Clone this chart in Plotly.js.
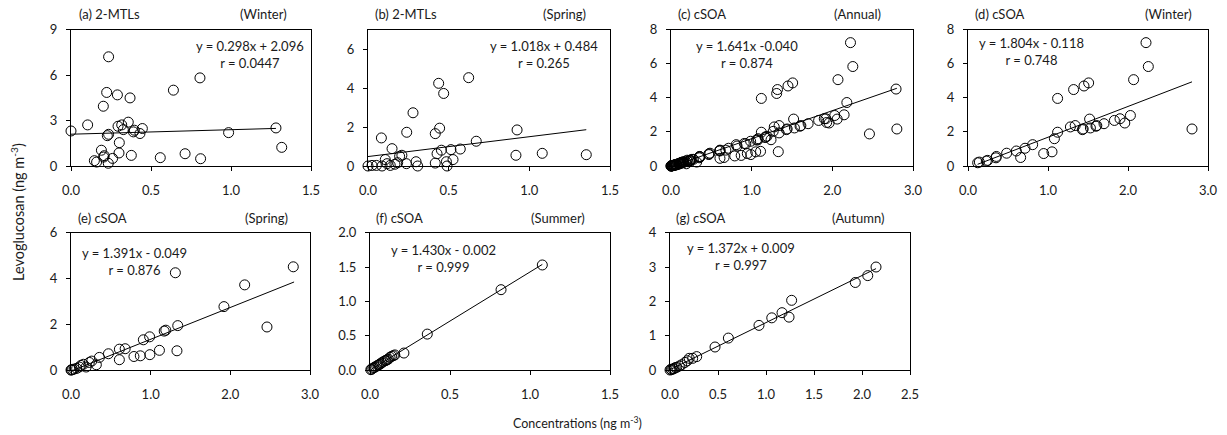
<!DOCTYPE html>
<html><head><meta charset="utf-8">
<script src="https://cdn.plot.ly/plotly-3.0.1.min.js"></script>
<style>html,body{margin:0;padding:0;background:#fff}#chart{width:1227px;height:435px}</style>
</head><body><div id="chart"></div>
<script>
// (a) 2-MTLs Winter
const aX = [0.0,0.104,0.235,0.223,0.29,0.369,0.202,0.317,0.358,0.294,0.327,0.227,0.235,0.396,0.39,0.446,0.431,0.302,0.19,0.208,0.204,0.3,0.377,0.146,0.16,0.233,0.26,0.558,0.713,0.81,0.64,0.806,0.985,1.281,1.317];
const aY = [2.31,2.71,7.2,4.85,4.69,4.49,3.94,2.71,2.89,2.62,2.4,2.0,2.09,2.36,2.25,2.47,2.14,1.54,1.04,0.68,0.59,0.86,0.70,0.35,0.26,0.18,0.5,0.55,0.81,0.48,5.0,5.81,2.2,2.51,1.23];
// (b) 2-MTLs Spring
const bX = [0.438,0.469,0.624,0.279,0.24,0.417,0.444,0.083,0.149,0.196,0.21,0.428,0.455,0.514,0.572,0.671,0.527,0.486,0.49,0.417,0.298,0.308,0.238,0.184,0.167,0.118,0.107,0.138,0.087,0.052,0.025,0.0,0.924,0.917,1.08,1.353];
const bY = [4.24,3.72,4.53,2.73,1.73,1.66,1.94,1.44,0.89,0.5,0.55,0.63,0.81,0.84,0.87,1.27,0.33,0.22,0.0,0.15,0.22,0.0,0.12,0.17,0.09,0.12,0.33,0.03,0.0,0.03,0.03,0.0,1.85,0.55,0.65,0.58];
// (d) cSOA Winter
const dX = [2.225,2.254,2.07,1.508,1.45,1.32,1.12,2.8,2.03,1.96,1.9,1.83,1.7,1.61,1.6,1.52,1.53,1.44,1.43,1.34,1.28,1.12,1.08,1.05,0.946,0.808,0.713,0.604,0.658,0.483,0.354,0.35,0.246,0.229,0.142,0.121];
const dY = [7.23,5.83,5.06,4.87,4.69,4.48,3.96,2.17,2.96,2.52,2.77,2.67,2.48,2.37,2.33,2.75,2.23,2.17,2.13,2.37,2.29,1.98,1.6,0.83,0.73,1.25,1.04,0.88,0.5,0.75,0.56,0.48,0.33,0.29,0.23,0.19];
// (e) cSOA Spring
const eX = [2.79,2.18,1.92,2.46,1.31,1.34,1.19,1.17,0.987,0.908,1.33,1.11,0.99,0.87,0.79,0.68,0.607,0.607,0.47,0.356,0.318,0.26,0.23,0.19,0.155,0.125,0.105,0.071,0.04,0.005,0.0,0.02];
const eY = [4.51,3.72,2.77,1.88,4.25,1.94,1.74,1.7,1.45,1.32,0.84,0.86,0.67,0.62,0.59,0.93,0.91,0.45,0.71,0.55,0.23,0.39,0.33,0.13,0.25,0.2,0.13,0.07,0.04,0.0,0.0,0.02];
// (f) cSOA Summer
const fX = [1.077,0.819,0.358,0.212,0.146,0.135,0.125,0.115,0.108,0.094,0.083,0.073,0.065,0.058,0.05,0.042,0.033,0.025,0.018,0.01,0.005,0.155,0.1];
const fY = [1.53,1.17,0.523,0.247,0.208,0.2,0.185,0.16,0.15,0.135,0.12,0.105,0.09,0.08,0.07,0.058,0.045,0.035,0.025,0.012,0.005,0.22,0.14];
// (g) cSOA Autumn
const gX = [2.146,2.06,1.93,1.267,1.24,1.167,1.06,0.927,0.608,0.469,0.278,0.236,0.2,0.18,0.156,0.12,0.097,0.07,0.042,0.017,0.0,0.03,0.055,0.01];
const gY = [3.0,2.75,2.55,2.03,1.54,1.67,1.52,1.3,0.93,0.67,0.39,0.34,0.34,0.27,0.22,0.15,0.115,0.077,0.04,0.01,0.0,0.03,0.07,0.02];
// (c) cSOA Annual = all seasons
const cX = dX.concat(eX, fX, gX);
const cY = dY.concat(eY, fY, gY);

const panelLeft  = ["(a) 2-MTLs","(b) 2-MTLs","(c) cSOA","(d) cSOA","(e) cSOA","(f) cSOA","(g) cSOA"];
const panelRight = ["(Winter)","(Spring)","(Annual)","(Winter)","(Spring)","(Summer)","(Autumn)"];
const slopes     = [0.298,1.018,1.641,1.804,1.391,1.430,1.372];
const intercepts = [2.096,0.484,-0.040,-0.118,-0.049,-0.002,0.009];
const eqText     = ["y = 0.298x + 2.096","y = 1.018x + 0.484","y = 1.641x -0.040","y = 1.804x - 0.118","y = 1.391x - 0.049","y = 1.430x - 0.002","y = 1.372x + 0.009"];
const rText      = ["r = 0.0447","r = 0.265","r = 0.874","r = 0.748","r = 0.876","r = 0.999","r = 0.997"];
const fitMin     = [0,0,0,0.12,0,0,0];
const fitMax     = [1.281,1.353,2.8,2.8,2.8,1.077,2.146];
const xMax       = [1.5,1.5,3,3,3,1.5,2.5];
const xStep      = [0.5,0.5,1,1,1,0.5,0.5];
const yMax       = [9,7,8,8,6,2,4];
const yStep      = [3,2,2,2,2,0.5,1];

const xs = [aX,bX,cX,dX,eX,fX,gX];
const ys = [aY,bY,cY,dY,eY,fY,gY];

const W = 1227, H = 435;
// pixel boxes [left,right,top,bottom]
const boxes = [[71,311,29.5,166],[368,610,29.5,166],[671,913,29.5,166],[968,1208,29.5,166],
               [71,310,232.7,370],[370,610,232.7,370],[670,910,232.7,370]];
const titleL = [77,373,676,973,76,374,674];
const titleR = [289,588,883,1194,290,587,886];
const eqX    = [250,544,747,1031,134,443,741];
const eqY    = [54.5,54.5,54,51.5,261,258,256.5];

const FONT = "Lato, 'Open Sans', sans-serif";
const TC = "#1a1a1a";
const traces = [], annotations = [];
const layout = {
  width: W, height: H, margin:{l:0,r:0,t:0,b:0}, showlegend:false,
  paper_bgcolor:"#fff", plot_bgcolor:"#fff",
  font:{family:FONT,size:13,color:TC}, annotations: annotations
};
for (let i=0;i<7;i++){
  const n = i+1, xa = 'x'+(n===1?'':n), ya = 'y'+(n===1?'':n);
  const b = boxes[i];
  const axCommon = {showline:true,mirror:true,linecolor:"#000",linewidth:1,ticks:"outside",ticklen:4,tickwidth:1,tickcolor:"#000",
                    showgrid:false,zeroline:false,fixedrange:true,tickfont:{family:FONT,size:13,color:TC}};
  layout['xaxis'+(n===1?'':n)] = Object.assign({}, axCommon, {
    domain:[b[0]/W,b[1]/W], anchor:ya, range:[0,xMax[i]], dtick:xStep[i], tick0:0, tickformat:".1f", ticklabelstandoff:8});
  layout['yaxis'+(n===1?'':n)] = Object.assign({}, axCommon, {
    domain:[1-b[3]/H,1-b[2]/H], anchor:xa, range:[0,yMax[i]], dtick:yStep[i], tick0:0,
    tickformat: yStep[i]<1 ? ".1f" : "d", ticklabelstandoff:6});
  traces.push({type:'scatter',mode:'markers',x:xs[i],y:ys[i],xaxis:xa,yaxis:ya,cliponaxis:false,
    marker:{symbol:'circle-open',size:10,color:'#000',line:{width:1,color:'#000'}},hoverinfo:'x+y'});
  traces.push({type:'scatter',mode:'lines',x:[fitMin[i],fitMax[i]],
    y:[slopes[i]*fitMin[i]+intercepts[i], slopes[i]*fitMax[i]+intercepts[i]],xaxis:xa,yaxis:ya,
    line:{color:'#000',width:1},hoverinfo:'skip'});
  const ty = b[2]-15;
  annotations.push({xref:'paper',yref:'paper',x:titleL[i]/W,y:1-ty/H,xanchor:'left',yanchor:'middle',text:panelLeft[i],showarrow:false,font:{size:13}});
  annotations.push({xref:'paper',yref:'paper',x:titleR[i]/W,y:1-ty/H,xanchor:'right',yanchor:'middle',text:panelRight[i],showarrow:false,font:{size:13}});
  annotations.push({xref:'paper',yref:'paper',x:eqX[i]/W,y:1-eqY[i]/H,xanchor:'center',yanchor:'middle',align:'center',
    text:eqText[i]+'<br>'+rText[i],showarrow:false,font:{size:13}});
}
annotations.push({xref:'paper',yref:'paper',x:18/W,y:1-212/H,xanchor:'center',yanchor:'middle',textangle:-90,
  text:'Levoglucosan (ng m<sup>-3</sup>)',showarrow:false,font:{size:14.5}});
annotations.push({xref:'paper',yref:'paper',x:577/W,y:1-422/H,xanchor:'center',yanchor:'middle',
  text:'Concentrations (ng m<sup>-3</sup>)',showarrow:false,font:{size:12.5}});

Plotly.newPlot('chart', traces, layout, {staticPlot:true,displayModeBar:false});
</script></body></html>
